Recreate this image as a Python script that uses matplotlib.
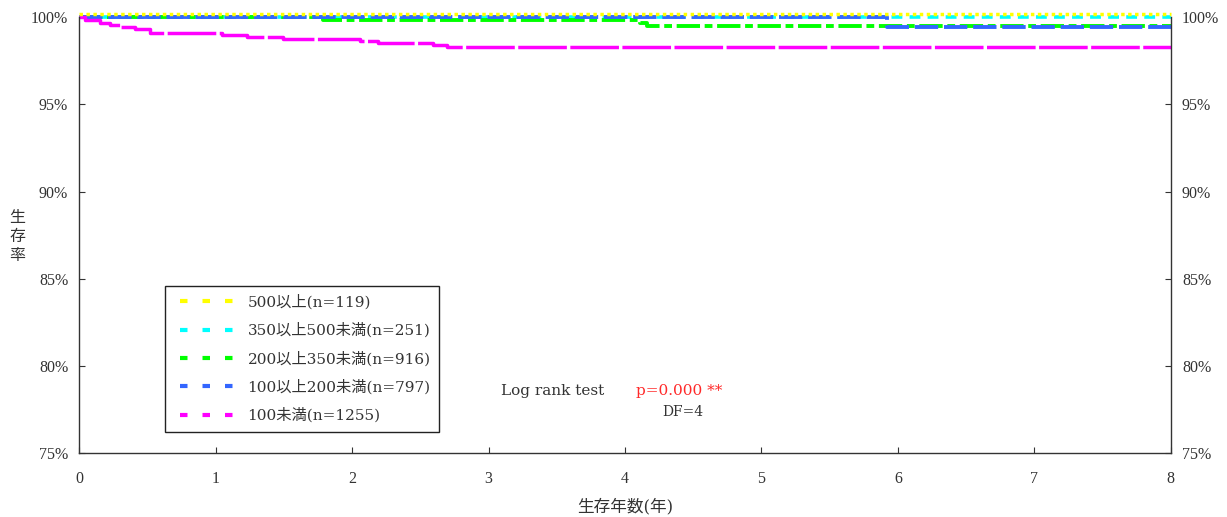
import matplotlib
matplotlib.use("Agg")
import matplotlib.pyplot as plt
from matplotlib.lines import Line2D
from matplotlib.transforms import offset_copy

plt.rcParams['font.family'] = ['Liberation Serif', 'Noto Sans CJK JP', 'DejaVu Sans']
wide_serif = ['DejaVu Serif', 'Noto Sans CJK JP']

# survival curves (years, survival %)
labels = ["500以上(n=119)", "350以上500未満(n=251)", "200以上350未満(n=916)",
          "100以上200未満(n=797)", "100未満(n=1255)"]
colors = ["#ffff00", "#00ffff", "#00ff00", "#3366ff", "#ff00ff"]

t_500 = [0, 8]
s_500 = [100, 100]

t_350 = [0, 8]
s_350 = [100, 100]

t_200 = [0, 1.79, 4.11, 4.16, 8]
s_200 = [100, 99.86, 99.66, 99.52, 99.52]

t_100 = [0, 5.92, 8]
s_100 = [100, 99.46, 99.46]

t_lt100 = [0, 0.042, 0.152, 0.225, 0.298, 0.408, 0.518, 1.046, 1.23, 1.493,
           2.058, 2.19, 2.59, 2.695, 8]
s_lt100 = [100, 99.85, 99.66, 99.54, 99.46, 99.31, 99.12, 98.97, 98.85, 98.76,
           98.66, 98.54, 98.41, 98.30, 98.30]

x_ticks = [0, 1, 2, 3, 4, 5, 6, 7, 8]
y_ticks = [75, 80, 85, 90, 95, 100]

fig = plt.figure(figsize=(12.27, 5.17), dpi=100)
ax = fig.add_axes([0.0646, 0.1232, 0.8896, 0.8436])

# drawing order: cyan, green, blue, magenta, yellow (yellow sits just above)
ax.step(t_350, s_350, where='post', color=colors[1], lw=2.6,
        linestyle=(0, (3, 2)), dash_capstyle='butt', clip_on=False)
ax.step(t_200, s_200, where='post', color=colors[2], lw=2.8,
        linestyle=(0, (6, 1.2, 2, 1.2)), dash_capstyle='butt', clip_on=False)
ax.step(t_100, s_100, where='post', color=colors[3], lw=2.8,
        linestyle=(0, (6, 1.5)), dash_capstyle='butt', clip_on=False)
ax.step(t_lt100, s_lt100, where='post', color=colors[4], lw=2.5,
        linestyle=(0, (14, 1)), dash_capstyle='butt', clip_on=False)
shift_up = offset_copy(ax.transData, fig=fig, x=0, y=3, units='dots')
ax.step(t_500, s_500, where='post', color=colors[0], lw=2.5,
        linestyle=(0, (1, 1)), dash_capstyle='butt', transform=shift_up, clip_on=False)

ax.set_xlim(0, 8)
ax.set_ylim(75, 100)
ax.set_xticks(x_ticks)
ax.set_yticks(y_ticks)
ax.set_yticklabels([f"{v}%" for v in y_ticks])
ax.tick_params(axis='both', direction='in', length=4, width=0.8, labelsize=11.5,
               colors='#333333', labelcolor='#333333')
ax.tick_params(axis='x', pad=13)
ax.tick_params(axis='y', right=True, labelright=True, pad=8)
ax.spines['top'].set_visible(False)
for s in ['left', 'bottom', 'right']:
    ax.spines[s].set_color('#333333')
    ax.spines[s].set_linewidth(1.0)

ax.set_xlabel("生存年数(年)", fontsize=12, color='#333333', labelpad=8,
              family=wide_serif)
ax.set_ylabel("生\n存\n率", rotation=0, fontsize=11.5, color='#333333',
              linespacing=1.25, ha='center', va='center')
ax.yaxis.set_label_coords(-0.057, 0.495)

# legend keys: three short dashes, starting with a small gap
handles = [Line2D([0], [0], color=c, lw=3, linestyle=(3.72, (1.8, 3.6)),
                  dash_capstyle='butt') for c in colors]
leg = ax.legend(handles, labels, loc='upper left', bbox_to_anchor=(0.0785, 0.3835),
                borderaxespad=0, prop={'family': wide_serif, 'size': 11},
                frameon=True, fancybox=False,
                edgecolor='#222222', handlelength=3.95, handletextpad=0.9,
                labelspacing=0.85, borderpad=0.55, labelcolor='#333333')
leg.get_frame().set_linewidth(1.0)
leg.get_frame().set_alpha(1)

ax.text(3.09, 78.6, "Log rank test", fontsize=11, color='#333333', va='center',
        family=wide_serif)
ax.text(4.08, 78.6, "p=0.000 **", fontsize=11, color='#ff2a2a', va='center',
        family=wide_serif)
ax.text(4.27, 77.35, "DF=4", fontsize=10, color='#333333', va='center',
        family=wide_serif)

fig.savefig("out.png", dpi=100)
